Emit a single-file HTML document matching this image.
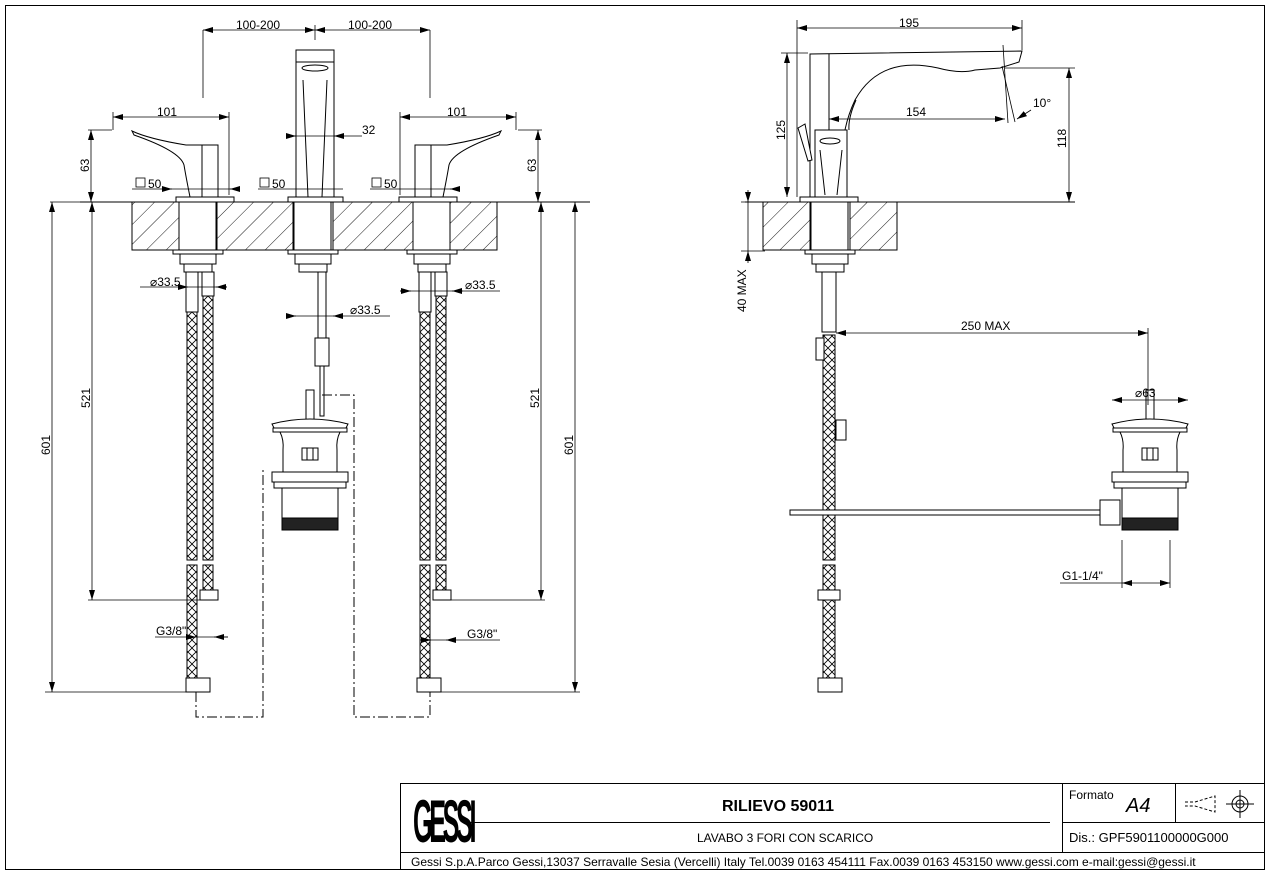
<!DOCTYPE html>
<html><head><meta charset="utf-8"><style>
body{margin:0;background:#fff}
svg{display:block}
text{font-family:"Liberation Sans",sans-serif;font-size:12px;fill:#000}
</style></head><body>
<svg width="1269" height="874" viewBox="0 0 1269 874" xmlns="http://www.w3.org/2000/svg">
<defs>
<pattern id="hatch" width="14" height="14" patternUnits="userSpaceOnUse" patternTransform="rotate(45)">
<line x1="0" y1="0" x2="0" y2="14" stroke="#000" stroke-width="0.9"/></pattern>
<pattern id="braid" width="8" height="8" patternUnits="userSpaceOnUse">
<path d="M0 0L8 8M8 0L0 8" stroke="#000" stroke-width="0.8"/></pattern>
<marker id="a" markerWidth="10" markerHeight="6" refX="10" refY="3" orient="auto-start-reverse" markerUnits="userSpaceOnUse"><path d="M0 0L10 3L0 6z" fill="#000"/></marker>
<g id="waste" fill="#fff" stroke="#000" stroke-width="1">
<rect x="-4" y="-30" width="8" height="30"/>
<path d="M-38 4Q0 -6 38 4L36 8H-36Z"/>
<rect x="-37" y="8" width="74" height="4"/>
<path d="M-30 12Q-26 20 -27 30V52H27V30Q26 20 30 12Z"/>
<rect x="-8" y="28" width="16" height="12"/>
<line x1="-3" y1="28" x2="-3" y2="40"/><line x1="3" y1="28" x2="3" y2="40"/>
<rect x="-38" y="52" width="76" height="10"/>
<rect x="-36" y="62" width="72" height="6"/>
<rect x="-28" y="68" width="56" height="42"/>
<rect x="-28" y="98" width="56" height="12" fill="#222"/>
</g>
<g id="handle" fill="#fff" stroke="#000" stroke-width="1">
<path d="M-72 -66Q-55 -58 -18 -52H14V0H-14Q-18 -20 -20 -32Q-24 -46 -70 -62Z"/>
<line x1="-2" y1="-52" x2="-2" y2="0"/>
<rect x="-28" y="0" width="58" height="5"/>
</g>
<g id="under" fill="#fff" stroke="#000" stroke-width="1">
<rect x="-19" y="0" width="37" height="48"/>
<rect x="-25" y="48" width="50" height="4"/>
<rect x="-18" y="52" width="36" height="10"/>
<rect x="-14" y="62" width="28" height="8"/>
</g>
</defs>

<rect x="5.5" y="5.5" width="1259" height="864" fill="none" stroke="#000"/>

<!-- LEFT VIEW -->
<line x1="80" y1="202" x2="590" y2="202" stroke="#000"/>
<rect x="132" y="202" width="365" height="48" fill="url(#hatch)" stroke="#000"/>
<rect x="180" y="202" width="37" height="48" fill="#fff" stroke="#000"/>
<rect x="293" y="202" width="40" height="48" fill="#fff" stroke="#000"/>
<rect x="413" y="202" width="37" height="48" fill="#fff" stroke="#000"/>

<use href="#handle" x="204" y="197"/>
<use href="#handle" transform="translate(429 197) scale(-1 1)"/>
<g fill="#fff" stroke="#000">
<rect x="296" y="50" width="38" height="147"/>
<rect x="296" y="50" width="38" height="12"/>
<ellipse cx="315" cy="68" rx="13" ry="3"/>
<path d="M303 80L308 197M327 80L322 197"/>
<rect x="288" y="197" width="55" height="5"/>
</g>

<use href="#under" x="198" y="202"/>
<use href="#under" x="313" y="202"/>
<use href="#under" x="432" y="202"/>
<g stroke="#000" fill="url(#braid)">
<rect x="187" y="310" width="10" height="250"/><rect x="203" y="295" width="10" height="265"/>
<rect x="187" y="565" width="10" height="115"/><rect x="203" y="565" width="10" height="28"/>
<rect x="420" y="310" width="10" height="250"/><rect x="436" y="295" width="10" height="265"/>
<rect x="420" y="565" width="10" height="115"/><rect x="436" y="565" width="10" height="28"/>
</g>
<g fill="#fff" stroke="#000">
<rect x="186" y="272" width="12" height="40"/><rect x="202" y="272" width="12" height="24"/>
<rect x="419" y="272" width="12" height="40"/><rect x="435" y="272" width="12" height="24"/>
<rect x="200" y="590" width="18" height="10"/><rect x="433" y="590" width="18" height="10"/>
<rect x="186" y="678" width="24" height="14"/><rect x="417" y="678" width="24" height="14"/>
<rect x="318" y="272" width="8" height="66"/><rect x="315" y="338" width="14" height="28"/>
<rect x="320" y="366" width="4" height="50"/>
</g>
<use href="#waste" x="310" y="420"/>
<g fill="none" stroke="#000" stroke-dasharray="10 3 2 3">
<path d="M196 692V717H263V470"/>
<path d="M322 395H354V717H430V692"/>
</g>

<g stroke="#000" stroke-width="0.8" fill="none">
<line x1="203" y1="30" x2="203" y2="98"/><line x1="430" y1="30" x2="430" y2="98"/>
<line x1="203" y1="30" x2="315" y2="30" marker-start="url(#a)" marker-end="url(#a)"/>
<line x1="315" y1="30" x2="430" y2="30" marker-start="url(#a)" marker-end="url(#a)"/>
<line x1="315" y1="25" x2="315" y2="40"/>
<line x1="113" y1="117" x2="229" y2="117" marker-start="url(#a)" marker-end="url(#a)"/>
<line x1="113" y1="112" x2="113" y2="130"/><line x1="229" y1="112" x2="229" y2="195"/>
<line x1="400" y1="117" x2="516" y2="117" marker-start="url(#a)" marker-end="url(#a)"/>
<line x1="400" y1="112" x2="400" y2="195"/><line x1="516" y1="112" x2="516" y2="130"/>
<line x1="287" y1="136" x2="362" y2="136"/>
<line x1="287" y1="136" x2="296" y2="136" marker-end="url(#a)"/><line x1="343" y1="136" x2="334" y2="136" marker-end="url(#a)"/>
<line x1="88" y1="130" x2="112" y2="130"/><line x1="91" y1="130" x2="91" y2="202" marker-start="url(#a)" marker-end="url(#a)"/>
<line x1="518" y1="130" x2="542" y2="130"/><line x1="538" y1="130" x2="538" y2="202" marker-start="url(#a)" marker-end="url(#a)"/>
<line x1="132" y1="189" x2="239" y2="189"/><line x1="164" y1="189" x2="172" y2="189" marker-end="url(#a)"/><line x1="239" y1="189" x2="230" y2="189" marker-end="url(#a)"/>
<line x1="258" y1="189" x2="343" y2="189"/>
<line x1="370" y1="189" x2="457" y2="189"/><line x1="457" y1="189" x2="450" y2="189" marker-end="url(#a)"/>
<line x1="50" y1="202" x2="80" y2="202"/><line x1="45" y1="692" x2="186" y2="692"/>
<line x1="52" y1="202" x2="52" y2="692" marker-start="url(#a)" marker-end="url(#a)"/>
<line x1="88" y1="600" x2="200" y2="600"/><line x1="92" y1="202" x2="92" y2="600" marker-start="url(#a)" marker-end="url(#a)"/>
<line x1="451" y1="600" x2="545" y2="600"/><line x1="541" y1="202" x2="541" y2="600" marker-start="url(#a)" marker-end="url(#a)"/>
<line x1="441" y1="692" x2="580" y2="692"/>
<line x1="575" y1="202" x2="575" y2="692" marker-start="url(#a)" marker-end="url(#a)"/>
<line x1="140" y1="287" x2="227" y2="287"/><line x1="180" y1="287" x2="188" y2="287" marker-end="url(#a)"/><line x1="227" y1="287" x2="216" y2="287" marker-end="url(#a)"/>
<line x1="400" y1="291" x2="500" y2="291"/><line x1="400" y1="291" x2="411" y2="291" marker-end="url(#a)"/><line x1="463" y1="291" x2="452" y2="291" marker-end="url(#a)"/>
<line x1="287" y1="316" x2="390" y2="316"/><line x1="287" y1="316" x2="296" y2="316" marker-end="url(#a)"/><line x1="342" y1="316" x2="333" y2="316" marker-end="url(#a)"/>
<line x1="155" y1="637" x2="228" y2="637"/><line x1="186" y1="637" x2="196" y2="637" marker-end="url(#a)"/><line x1="228" y1="637" x2="214" y2="637" marker-end="url(#a)"/>
<line x1="420" y1="640" x2="500" y2="640"/><line x1="420" y1="640" x2="431" y2="640" marker-end="url(#a)"/><line x1="456" y1="640" x2="446" y2="640" marker-end="url(#a)"/>
</g>
<g>
<text x="236" y="29">100-200</text><text x="348" y="29">100-200</text>
<text x="157" y="116">101</text><text x="447" y="116">101</text>
<text x="362" y="134">32</text>
<text x="148" y="188">50</text><text x="272" y="188">50</text><text x="384" y="188">50</text>
<text x="150" y="286">⌀33.5</text><text x="465" y="289">⌀33.5</text><text x="350" y="314">⌀33.5</text>
<text x="156" y="635">G3/8"</text><text x="467" y="638">G3/8"</text>
<text transform="translate(89 172) rotate(-90)">63</text>
<text transform="translate(536 172) rotate(-90)">63</text>
<text transform="translate(50 455) rotate(-90)">601</text>
<text transform="translate(90 408) rotate(-90)">521</text>
<text transform="translate(539 408) rotate(-90)">521</text>
<text transform="translate(573 455) rotate(-90)">601</text>
</g>
<g fill="none" stroke="#000" stroke-width="0.8">
<rect x="136" y="178" width="9" height="9"/><rect x="260" y="178" width="9" height="9"/><rect x="372" y="178" width="9" height="9"/>
</g>

<!-- RIGHT VIEW -->
<line x1="745" y1="202" x2="1075" y2="202" stroke="#000"/>
<rect x="763" y="202" width="134" height="48" fill="url(#hatch)" stroke="#000"/>
<rect x="810" y="202" width="40" height="48" fill="#fff" stroke="#000"/>
<g fill="#fff" stroke="#000">
<path d="M810 197V54L1022 51L1019 62L1000 68L975 70Q960 74 938 68Q880 55 855 100Q848 115 845 130"/>
<line x1="829" y1="54" x2="829" y2="130"/>
<path d="M856 100Q848 118 849 130" fill="none"/>
<rect x="815" y="130" width="32" height="67"/>
<ellipse cx="830" cy="141" rx="10" ry="3"/>
<path d="M820 150L825 195M842 150L837 195"/>
<rect x="800" y="197" width="58" height="5"/>
<path d="M798 128L805 124L812 160L808 161Z"/>
</g>
<use href="#under" x="830" y="202"/>
<g stroke="#000" fill="url(#braid)">
<rect x="823" y="335" width="12" height="225"/><rect x="823" y="565" width="12" height="115"/>
</g>
<g fill="#fff" stroke="#000">
<rect x="822" y="272" width="14" height="60"/>
<rect x="816" y="338" width="8" height="22"/><rect x="836" y="420" width="10" height="20"/>
<rect x="818" y="590" width="22" height="10"/>
<rect x="818" y="678" width="24" height="14"/>
<rect x="790" y="510" width="310" height="5"/>
<path d="M1100 500H1120V525H1100Z"/>
</g>
<use href="#waste" x="1150" y="420"/>
<g stroke="#000" stroke-width="0.8" fill="none">
<line x1="797" y1="20" x2="797" y2="197"/><line x1="1022" y1="20" x2="1022" y2="50"/>
<line x1="797" y1="28" x2="1022" y2="28" marker-start="url(#a)" marker-end="url(#a)"/>
<line x1="781" y1="53" x2="808" y2="53"/><line x1="787" y1="53" x2="787" y2="197" marker-start="url(#a)" marker-end="url(#a)"/>
<line x1="1005" y1="68" x2="1075" y2="68"/><line x1="1069" y1="68" x2="1069" y2="202" marker-start="url(#a)" marker-end="url(#a)"/>
<line x1="829" y1="119" x2="1005" y2="119" marker-start="url(#a)" marker-end="url(#a)"/>
<line x1="1003" y1="45" x2="1008" y2="123"/><line x1="1002" y1="66" x2="1015" y2="122"/>
<path d="M1031 110L1017 119" marker-end="url(#a)"/>
<line x1="741" y1="202" x2="760" y2="202"/><line x1="741" y1="251" x2="765" y2="251"/>
<line x1="748" y1="190" x2="748" y2="202" marker-end="url(#a)"/><line x1="748" y1="263" x2="748" y2="251" marker-end="url(#a)"/><line x1="748" y1="202" x2="748" y2="251"/>
<line x1="836" y1="333" x2="1148" y2="333" marker-start="url(#a)" marker-end="url(#a)"/>
<line x1="1148" y1="328" x2="1148" y2="405"/>
<line x1="1112" y1="400" x2="1188" y2="400" marker-start="url(#a)" marker-end="url(#a)"/>
<line x1="1060" y1="583" x2="1122" y2="583"/><line x1="1122" y1="540" x2="1122" y2="588"/><line x1="1170" y1="540" x2="1170" y2="588"/>
<line x1="1122" y1="583" x2="1170" y2="583" marker-start="url(#a)" marker-end="url(#a)"/>
</g>
<text x="899" y="27">195</text>
<text x="906" y="116">154</text>
<text x="1033" y="107">10°</text>
<text x="961" y="330">250 MAX</text>
<text x="1135" y="397">⌀63</text>
<text x="1062" y="580">G1-1/4"</text>
<text transform="translate(785 140) rotate(-90)">125</text>
<text transform="translate(1066 148) rotate(-90)">118</text>
<text transform="translate(746 312) rotate(-90)">40 MAX</text>

<!-- TITLE BLOCK -->
<g stroke="#000" fill="none">
<rect x="400.5" y="783.5" width="864" height="86"/>
<line x1="400" y1="852.5" x2="1265" y2="852.5"/>
<line x1="1062.5" y1="783" x2="1062.5" y2="852"/>
<line x1="1175.5" y1="783" x2="1175.5" y2="822"/>
<line x1="1062" y1="822.5" x2="1265" y2="822.5"/>
<line x1="470" y1="822.5" x2="1050" y2="822.5"/>
<path d="M1185 802H1195L1215 796V812L1195 806H1185" stroke-dasharray="3 2"/>
<circle cx="1240" cy="804" r="8"/><circle cx="1240" cy="804" r="4"/>
<line x1="1226" y1="804" x2="1254" y2="804"/><line x1="1240" y1="790" x2="1240" y2="818"/>
</g>
<text style="font-size:60px;font-weight:bold;letter-spacing:-8px" transform="translate(413 842) scale(0.42 1)">GESSI</text>
<text x="722" y="811" style="font-size:16px;font-weight:bold">RILIEVO 59011</text>
<text x="697" y="842">LAVABO 3 FORI CON SCARICO</text>
<text x="1069" y="799">Formato</text>
<text x="1126" y="812" style="font-size:20px;font-style:italic">A4</text>
<text x="1069" y="842" style="font-size:13px">Dis.: GPF5901100000G000</text>
<text x="411" y="866" style="font-size:12px">Gessi S.p.A.Parco Gessi,13037 Serravalle Sesia (Vercelli) Italy Tel.0039 0163 454111 Fax.0039 0163 453150 www.gessi.com e-mail:gessi@gessi.it</text>
</svg>
</body></html>
